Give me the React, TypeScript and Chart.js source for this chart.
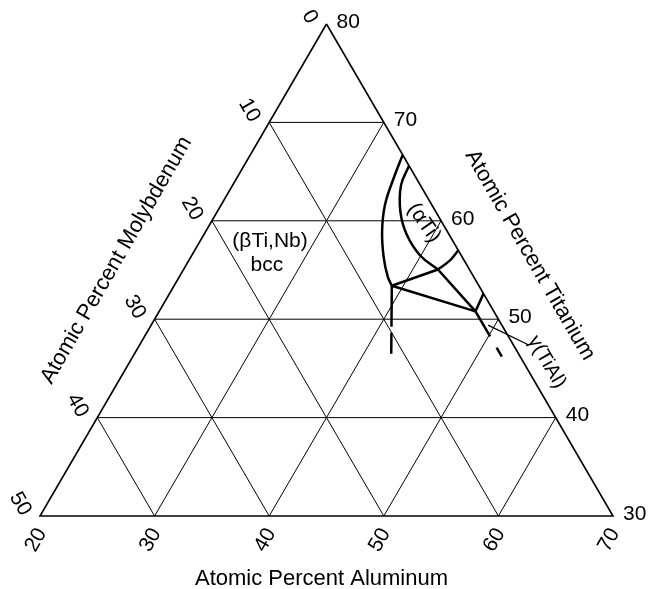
import React, { useEffect, useRef } from "react";
import { Chart, registerables } from "chart.js";

Chart.register(...registerables);

// ---- axis ticks (atomic percent) ----
const alTicks = [20, 30, 40, 50, 60, 70];
const tiTicks = [80, 70, 60, 50, 40, 30];
const moTicks = [0, 10, 20, 30, 40, 50];

// ---- grid lines ----
const tiGrid = [40, 50, 60, 70];
const alGrid = [30, 40, 50, 60];
const moGrid = [10, 20, 30, 40];

// ---- phase boundaries, composition in at.% (Al, Ti); Mo = 100 - Al - Ti ----
const betaBoundaryAl = [33.3, 33.7, 34.3, 35.4, 36.9, 38.2, 39.0];
const betaBoundaryTi = [66.7, 64.3, 61.6, 58.9, 56.2, 54.3, 53.4];
const alphaBoundaryAl = [34.4, 34.7, 36.0, 37.7, 39.9, 42.2];
const alphaBoundaryTi = [65.6, 63.6, 60.9, 58.6, 56.5, 55.05];
const alphaGammaAl = [42.2, 47.6];
const alphaGammaTi = [55.05, 50.8];
const alphaEdgeAl = [42.2, 42.8, 43.0];
const alphaEdgeTi = [55.05, 56.0, 57.0];
const tieBetaAlphaAl = [39.0, 42.2];
const tieBetaAlphaTi = [53.4, 55.05];
const tieBetaGammaAl = [39.0, 47.6];
const tieBetaGammaTi = [53.4, 50.8];
const gammaEdgeAl = [47.6, 47.4];
const gammaEdgeTi = [50.8, 52.6];
const gammaDashAl = [47.6, 52.2];
const gammaDashTi = [50.8, 46.2];
const betaDashAl = [39.0, 42.4];
const betaDashTi = [53.4, 46.5];
const gammaLeaderAl = [49.4, 53.9];
const gammaLeaderTi = [49.4, 47.4];

const FONT = '"Liberation Sans", Arial, Helvetica, sans-serif';

const toXY = (al: number, ti: number) => ({ x: al + (ti - 30) / 2, y: ti });
const path = (al: number[], ti: number[]) => al.map((a, i) => toXY(a, ti[i]));

const line = (data: any[], width: number, extra: any = {}) => ({
  data,
  borderColor: "#000",
  backgroundColor: "#000",
  borderWidth: width,
  pointRadius: 0,
  pointHoverRadius: 0,
  showLine: true,
  tension: 0,
  fill: false,
  clip: false,
  borderCapStyle: "butt",
  ...extra,
});

function drawRot(ctx: CanvasRenderingContext2D, text: string, x: number, y: number, ang: number, align: CanvasTextAlign) {
  ctx.save();
  ctx.translate(x, y);
  ctx.rotate(ang);
  ctx.textAlign = align;
  ctx.textBaseline = "middle";
  ctx.fillText(text, 0, 0);
  ctx.restore();
}

const labelsPlugin = {
  id: "ternaryLabels",
  afterDatasetsDraw(chart: any) {
    const { ctx, scales, chartArea } = chart;
    const xs = scales.x;
    const ys = scales.y;
    const px = (al: number, ti: number) => [xs.getPixelForValue(al + (ti - 30) / 2), ys.getPixelForValue(ti)];
    ctx.save();
    ctx.fillStyle = "#000";
    ctx.font = `21px ${FONT}`;

    // Titanium ticks (right edge)
    ctx.textAlign = "left";
    ctx.textBaseline = "middle";
    tiTicks.forEach((t) => {
      const [X, Y] = px(100 - t, t);
      ctx.fillText(String(t), X + 10, Y - 2);
    });
    // Aluminum ticks (bottom edge)
    alTicks.forEach((a) => {
      const [X, Y] = px(a, 30);
      drawRot(ctx, String(a), X - 4, Y + 24, -Math.PI / 3, "center");
    });
    // Molybdenum ticks (left edge)
    moTicks.forEach((m) => {
      const [X, Y] = px(20, 80 - m);
      drawRot(ctx, String(m), X - 14, Y - 2, Math.PI / 3, "right");
    });

    // Axis titles
    ctx.font = `22px ${FONT}`;
    ctx.textAlign = "center";
    ctx.textBaseline = "alphabetic";
    const midX = (chartArea.left + chartArea.right) / 2;
    ctx.fillText("Atomic Percent Aluminum", midX - 5, chartArea.bottom + 69);
    const [mx, my] = px(13.67, 56.0);
    drawRot(ctx, "Atomic Percent Molybdenum", mx, my, -Math.PI / 3, "center");
    const [tx, ty] = px(49.5, 56.5);
    drawRot(ctx, "Atomic Percent Titanium", tx, ty, Math.PI / 3, "center");

    // Phase labels
    ctx.font = `21px ${FONT}`;
    const [bx, by] = px(26.1, 57.95);
    drawRot(ctx, "(βTi,Nb)", bx, by, 0, "center");
    const [cx, cy] = px(27.05, 55.5);
    drawRot(ctx, "bcc", cx, cy, 0, "center");
    const [ax, ay] = px(38.6, 59.8);
    drawRot(ctx, "(αTi)", ax, ay, (55 * Math.PI) / 180, "center");
    ctx.font = `20px ${FONT}`;
    const [gx, gy] = px(56.4, 45.65);
    drawRot(ctx, "γ(TiAl)", gx, gy, Math.PI / 3, "center");
    ctx.restore();
  },
};

export default function App() {
  const ref = useRef<HTMLCanvasElement | null>(null);

  useEffect(() => {
    if (!ref.current) return;
    const datasets: any[] = [];

    // triangle border
    datasets.push(line([toXY(20, 80), toXY(20, 30), toXY(70, 30), toXY(20, 80)], 1.6, { borderJoinStyle: "miter" }));
    // grid lines
    tiGrid.forEach((t) => datasets.push(line([toXY(20, t), toXY(100 - t, t)], 1)));
    alGrid.forEach((a) => datasets.push(line([toXY(a, 30), toXY(a, 100 - a)], 1)));
    moGrid.forEach((m) => datasets.push(line([toXY(20, 80 - m), toXY(70 - m, 30)], 1)));

    // phase boundaries
    datasets.push(line(path(betaBoundaryAl, betaBoundaryTi), 2.5, { tension: 0.4 }));
    datasets.push(line(path(alphaBoundaryAl, alphaBoundaryTi), 2.5, { tension: 0.4 }));
    datasets.push(line(path(alphaGammaAl, alphaGammaTi), 2.5));
    datasets.push(line(path(alphaEdgeAl, alphaEdgeTi), 2.5, { tension: 0.4 }));
    datasets.push(line(path(tieBetaAlphaAl, tieBetaAlphaTi), 2.5));
    datasets.push(line(path(tieBetaGammaAl, tieBetaGammaTi), 2.5));
    datasets.push(line(path(gammaEdgeAl, gammaEdgeTi), 2.5));
    datasets.push(line(path(gammaDashAl, gammaDashTi), 2.5, { borderDash: [29, 13] }));
    datasets.push(line(path(betaDashAl, betaDashTi), 2.5, { borderDash: [41, 6] }));
    datasets.push(line(path(gammaLeaderAl, gammaLeaderTi), 1.2));

    const chart = new Chart(ref.current, {
      type: "scatter",
      data: { datasets },
      options: {
        animation: false,
        responsive: false,
        devicePixelRatio: 1,
        events: [],
        layout: { padding: { left: 40, right: 35, top: 24, bottom: 73 } },
        scales: {
          x: { type: "linear", min: 20, max: 70, display: false },
          y: { type: "linear", min: 30, max: 80, display: false },
        },
        plugins: { legend: { display: false }, tooltip: { enabled: false } },
      },
      plugins: [labelsPlugin],
    } as any);
    return () => chart.destroy();
  }, []);

  return (
    <div style={{ position: "absolute", left: 0, top: 0, width: 648, height: 589, background: "#fff" }}>
      <canvas ref={ref} width={648} height={589} style={{ display: "block" }} />
    </div>
  );
}
